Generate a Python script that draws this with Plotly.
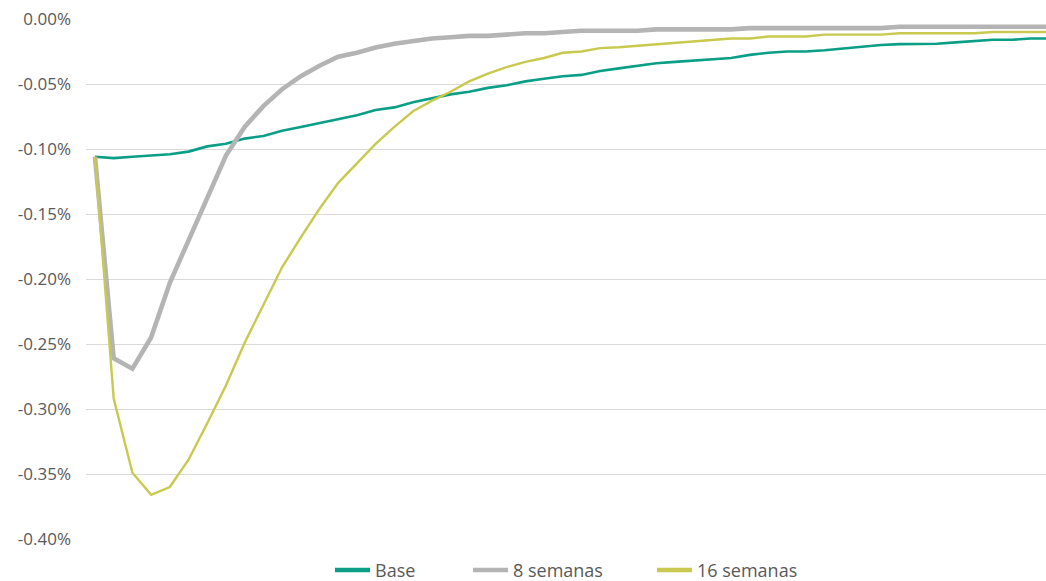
import plotly.graph_objects as go

# Weekly periods after the shock (index only, the axis is unlabelled)
periods = list(range(52))

base = [
    -0.106, -0.107, -0.106, -0.105, -0.104, -0.102, -0.098, -0.096, -0.092, -0.090,
    -0.086, -0.083, -0.080, -0.077, -0.074, -0.070, -0.068, -0.064, -0.061, -0.058,
    -0.056, -0.053, -0.051, -0.048, -0.046, -0.044, -0.043, -0.040, -0.038, -0.036,
    -0.034, -0.033, -0.032, -0.031, -0.030, -0.0276, -0.026, -0.025, -0.025, -0.024,
    -0.0225, -0.021, -0.020, -0.0193, -0.0193, -0.019, -0.018, -0.017, -0.016, -0.016,
    -0.015, -0.015,
]

semanas_8 = [
    -0.106, -0.261, -0.269, -0.245, -0.203, -0.170, -0.137, -0.105, -0.083, -0.067,
    -0.054, -0.044, -0.036, -0.029, -0.026, -0.022, -0.019, -0.017, -0.015, -0.014,
    -0.013, -0.013, -0.012, -0.011, -0.011, -0.010, -0.009, -0.009, -0.009, -0.009,
    -0.008, -0.008, -0.008, -0.008, -0.008, -0.007, -0.007, -0.007, -0.007, -0.007,
    -0.007, -0.007, -0.007, -0.006, -0.006, -0.006, -0.006, -0.006, -0.006, -0.006,
    -0.006, -0.006,
]

semanas_16 = [
    -0.106, -0.292, -0.349, -0.366, -0.360, -0.339, -0.311, -0.282, -0.249, -0.220,
    -0.191, -0.168, -0.146, -0.126, -0.111, -0.096, -0.083, -0.071, -0.063, -0.056,
    -0.048, -0.042, -0.037, -0.033, -0.030, -0.026, -0.025, -0.0224, -0.0217, -0.0206,
    -0.0194, -0.0186, -0.0176, -0.016, -0.015, -0.015, -0.0135, -0.0135, -0.0135, -0.012,
    -0.012, -0.012, -0.012, -0.011, -0.011, -0.011, -0.011, -0.011, -0.010, -0.010,
    -0.010, -0.010,
]

tick_vals = [0.0, -0.05, -0.10, -0.15, -0.20, -0.25, -0.30, -0.35, -0.40]
tick_text = ["0.00%", "-0.05%", "-0.10%", "-0.15%", "-0.20%", "-0.25%", "-0.30%", "-0.35%", "-0.40%"]

series = [
    ("Base", base, "#0a9e86", 2.6, 88),
    ("8 semanas", semanas_8, "#b4b4b4", 4.6, 134),
    ("16 semanas", semanas_16, "#c9c94f", 2.4, 100),
]

fig = go.Figure()
for name, values, color, width, _ in series:
    fig.add_trace(go.Scatter(
        x=periods, y=values, mode="lines", name=name,
        line=dict(color=color, width=width),
        showlegend=False, hoverinfo="skip",
    ))
# Legend keys with a uniform stroke
for name, values, color, width, entry in series:
    fig.add_trace(go.Scatter(
        x=[None], y=[None], mode="lines", name=name,
        line=dict(color=color, width=4.5), legendwidth=entry,
    ))

fig.update_layout(
    width=1046, height=581,
    margin=dict(l=86, r=0, t=19, b=42, autoexpand=False),
    paper_bgcolor="white", plot_bgcolor="white",
    font=dict(family="Open Sans", size=17, color="#595959"),
    showlegend=True,
    legend=dict(
        orientation="h", x=0.5, xanchor="center", y=-0.06, yanchor="middle",
        font=dict(size=18, color="#595959"), itemwidth=35,
    ),
    xaxis=dict(
        range=[-0.48, 50.83], showticklabels=False, showgrid=False,
        zeroline=False, showline=False, ticks="",
    ),
    yaxis=dict(
        range=[-0.40, 0.0], tickvals=tick_vals, ticktext=tick_text,
        showgrid=True, gridcolor="#d9d9d9", gridwidth=1.3,
        zeroline=False, showline=False, ticks="", ticklabelstandoff=14,
        tickfont=dict(size=17, color="#595959"),
    ),
)

fig.write_html("out.html")
